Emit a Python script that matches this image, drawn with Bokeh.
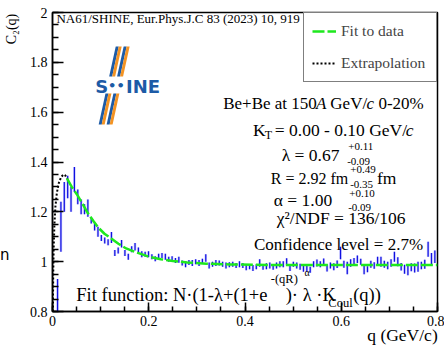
import numpy as np
from bokeh.plotting import figure
from bokeh.models import (Label, Legend, LegendItem, FixedTicker, LinearAxis,
                          CustomJSTickFormatter, PolyAnnotation, Range1d)
from bokeh.embed import file_html
from bokeh.resources import INLINE

# ---------------- data ----------------
bin_width = 0.007
first_bin_centre = 0.0105

c2_values = [
    0.80, 1.14, 1.26, 1.30, 1.25, 1.33, 1.26, 1.22, 1.21, 1.215,
    1.165, 1.14, 1.12, 1.095, 1.085, 1.078, 1.097, 1.035, 1.045, 1.072,
    1.035, 1.02, 1.05, 1.06, 1.045, 1.03, 1.03, 1.03, 1.02, 1.012,
    1.02, 1.025, 1.02, 1.01, 1.012, 1.005, 1.008, 0.995, 0.99, 0.997,
    0.995, 1.0, 0.995, 1.002, 1.015, 0.985, 0.99, 0.995, 0.995, 0.99,
    0.985, 0.988, 0.99, 0.985, 0.99, 0.985, 0.978, 0.98, 0.975, 0.98,
    0.995, 0.978, 0.982, 0.985, 0.978, 0.985, 0.99, 0.99, 1.0, 0.975,
    0.99, 0.985, 0.98, 0.972, 0.975, 0.968, 0.99, 0.995, 0.99, 1.0,
    0.975, 0.985, 0.98, 0.99, 1.035, 0.99, 0.975, 0.995, 1.0, 1.01,
    1.0, 0.97, 0.97, 0.99, 0.985, 1.005, 1.0, 0.99, 0.985, 0.995,
    1.02, 1.0, 0.98, 0.97, 0.965, 0.978, 0.975, 0.98, 0.985, 0.99,
    1.05, 1.01, 1.02,
]
c2_errors = [
    0.13, 0.10, 0.06, 0.045, 0.05, 0.05, 0.03, 0.03, 0.02, 0.035,
    0.012, 0.015, 0.02, 0.012, 0.012, 0.012, 0.022, 0.012, 0.012, 0.015,
    0.012, 0.012, 0.012, 0.015, 0.012, 0.012, 0.01, 0.012, 0.01, 0.01,
    0.012, 0.01, 0.012, 0.01, 0.01, 0.01, 0.012, 0.01, 0.012, 0.01,
    0.012, 0.01, 0.012, 0.01, 0.015, 0.012, 0.01, 0.012, 0.01, 0.01,
    0.012, 0.01, 0.01, 0.01, 0.012, 0.01, 0.012, 0.01, 0.012, 0.01,
    0.015, 0.01, 0.012, 0.012, 0.01, 0.012, 0.012, 0.012, 0.014, 0.012,
    0.01, 0.012, 0.012, 0.012, 0.015, 0.012, 0.012, 0.014, 0.012, 0.013,
    0.014, 0.012, 0.014, 0.015, 0.025, 0.014, 0.025, 0.015, 0.015, 0.015,
    0.012, 0.02, 0.012, 0.014, 0.013, 0.015, 0.02, 0.014, 0.015, 0.015,
    0.02, 0.018, 0.015, 0.018, 0.02, 0.016, 0.018, 0.02, 0.015, 0.018,
    0.03, 0.025, 0.025,
]

fit_q = [0.030, 0.040, 0.052, 0.063, 0.074, 0.085, 0.095, 0.108, 0.122,
         0.137, 0.153, 0.170, 0.188, 0.200, 0.225, 0.250, 0.280, 0.320,
         0.370, 0.450, 0.550, 0.650, 0.800]
fit_c2 = [1.334, 1.300, 1.266, 1.230, 1.193, 1.163, 1.137, 1.112, 1.093,
          1.072, 1.053, 1.040, 1.028, 1.020, 1.010, 1.003, 0.997, 0.992,
          0.989, 0.987, 0.987, 0.987, 0.987]

extrap_q = [0.0008, 0.0015, 0.0025, 0.004, 0.006, 0.009, 0.013, 0.018,
            0.023, 0.027, 0.030]
extrap_c2 = [0.80, 0.95, 1.06, 1.15, 1.22, 1.275, 1.315, 1.34, 1.35,
             1.345, 1.334]

x_ticks = [0, 0.2, 0.4, 0.6, 0.8]
y_ticks = [0.8, 1.0, 1.2, 1.4, 1.6, 1.8, 2.0]

# ---------------- figure ----------------
W, H = 444, 347
L, R, T, B = 49, 437, 12, 311
X0, X1, Y0, Y1 = 0.0, 0.8, 0.8, 2.0
SERIF = "Liberation Serif"
EM = "\u2003"   # em spaces push centred axis titles to the axis ends

p = figure(width=W, height=H, x_range=Range1d(X0, X1), y_range=Range1d(Y0, Y1),
           output_backend="svg", toolbar_location=None,
           min_border_left=L, min_border_right=W - R,
           min_border_top=T, min_border_bottom=H - B)
p.grid.visible = False
p.outline_line_color = "black"
p.outline_line_width = 1.5
p.background_fill_color = "white"
p.border_fill_color = "white"

fmt = CustomJSTickFormatter(code="return tick.toFixed(1).replace(/\\.0$/, '');")
p.xaxis.ticker = FixedTicker(ticks=x_ticks,
                             minor_ticks=np.round(np.arange(0, 0.8001, 0.05), 3).tolist())
p.yaxis.ticker = FixedTicker(ticks=y_ticks,
                             minor_ticks=np.round(np.arange(0.8, 2.0001, 0.05), 3).tolist())
for ax in (p.xaxis[0], p.yaxis[0]):
    ax.formatter = fmt
    ax.axis_line_width = 1.5
    ax.axis_line_color = "black"
    ax.major_tick_out = 0
    ax.minor_tick_out = 0
    ax.major_tick_line_width = 1.5
    ax.minor_tick_line_width = 1.5
    ax.major_tick_line_color = "black"
    ax.minor_tick_line_color = "black"
    ax.major_label_text_font = SERIF
    ax.major_label_text_font_size = "14px"
    ax.major_label_text_color = "black"
p.yaxis.major_tick_in = 11
p.yaxis.minor_tick_in = 6
p.yaxis.major_label_standoff = 5
p.xaxis.major_tick_in = 9
p.xaxis.minor_tick_in = 5
p.xaxis.major_label_standoff = 4
p.xaxis.axis_label = EM * 18 + "q (GeV/c)"
p.xaxis.axis_label_text_font = SERIF
p.xaxis.axis_label_text_font_style = "normal"
p.xaxis.axis_label_text_color = "black"
p.xaxis.axis_label_text_font_size = "17.5px"
p.xaxis.axis_label_standoff = -4

# outer left axis carrying the y title and the stray "n" of the reference
outer = LinearAxis(ticker=FixedTicker(ticks=[1.025]),
                   major_label_overrides={1.025: "n"},
                   axis_line_alpha=0, major_tick_in=0, major_tick_out=0,
                   minor_tick_in=0, minor_tick_out=0,
                   major_label_standoff=17,
                   major_label_text_font="DejaVu Sans",
                   major_label_text_font_size="15px",
                   major_label_text_color="black",
                   axis_label=EM * 19 + "C₂(q)", axis_label_standoff=-22,
                   axis_label_text_font=SERIF,
                   axis_label_text_font_size="14px",
                   axis_label_text_font_style="normal",
                   axis_label_text_color="black")
p.add_layout(outer, "left")

# ---------------- data marks ----------------
q_bins = first_bin_centre + bin_width * np.arange(len(c2_values))
vals = np.array(c2_values)
errs = np.array(c2_errors)
p.segment(x0=q_bins, y0=vals - errs, x1=q_bins, y1=vals + errs,
          line_color="#8080ff", line_width=2.5, line_alpha=0.45)
p.segment(x0=q_bins, y0=vals - errs, x1=q_bins, y1=vals + errs,
          line_color="#1010e0", line_width=1.2)

fit_r = p.line(fit_q, fit_c2, line_color="#1ee81e", line_width=2.5,
               line_dash="12 3")
ext_r = p.line(extrap_q, extrap_c2, line_color="black", line_width=2,
               line_dash="2 2")

legend = Legend(items=[LegendItem(label="Fit to data", renderers=[fit_r]),
                       LegendItem(label="Extrapolation", renderers=[ext_r])],
                location="top_right", margin=0, padding=8, spacing=12,
                glyph_width=24, glyph_height=20, label_height=20,
                label_width=87, label_standoff=5,
                label_text_font=SERIF,
                label_text_font_size="15.5px",
                border_line_color="black", border_line_width=1.5,
                background_fill_color="white", background_fill_alpha=1.0)
p.add_layout(legend)

# ---------------- text helpers ----------------
def X(px):
    return X0 + (px - L) / (R - L) * (X1 - X0)

def Y(py):
    return Y1 - (py - T) / (B - T) * (Y1 - Y0)

def txt(px, py, s, size=17.5, style="normal", font=SERIF,
        color="black", align="left", angle=0.0):
    # labels sit about 0.2 em below the requested baseline; compensate
    py = py - 0.2 * size
    p.add_layout(Label(x=X(px), y=Y(py), text=s, text_font=font,
                       text_font_size=f"{size}px", text_font_style=style,
                       text_color=color, text_align=align,
                       text_baseline="alphabetic", angle=angle))

txt(53, 21, "NA61/SHINE, Eur.Phys.J.C 83 (2023) 10, 919", size=13)

# Be+Be line
txt(221, 106, "Be+Be at 150", size=17)
txt(314.6, 106, "A", size=17, style="italic")
txt(329, 106, "GeV/", size=17)
txt(365.5, 106, "c", size=17, style="italic")
txt(377.5, 106, "0-20%", size=17)

# K_T
txt(251, 133, "K")
txt(263, 137, "T", size=12)
txt(273, 133, "= 0.00 - 0.10 GeV/")
txt(405, 133, "c", style="italic")
# lambda
txt(280, 158, "λ = 0.67")
txt(347, 148, "+0.11", size=11)
txt(346, 163, "-0.09", size=11)
# R
txt(269, 181, "R = 2.92 fm", size=16)
txt(349, 171, "+0.49", size=11)
txt(349, 186, "-0.35", size=11)
txt(376, 181, "fm")
# alpha
txt(272, 203, "α = 1.00")
txt(348, 195, "+0.10", size=11)
txt(347, 209, "-0.09", size=11)
# chi2
txt(275, 221, "χ²/NDF = 136/106")
txt(252, 247, "Confidence level = 2.7%", size=17)

# Fit function
txt(73, 298, "Fit function: N·(1-λ+(1+e", size=18.5)
txt(269, 281, "-(qR)", size=12.5)
txt(303, 274, "α", size=10)
txt(284, 298, ")· λ ·K", size=18.5)
txt(327, 305, "Coul", size=12.5)
txt(352, 298, "(q))", size=18.5)

# ---------------- SHINE logo ----------------
blue, orange = "#1d5ba6", "#f39323"
slope = -0.22
stripes = [(112.5, blue), (115.5, orange), (120.5, blue), (123.5, orange)]
for (y0, y1) in [(46, 76), (93, 124)]:
    for x0, col in stripes:
        xa = x0 + slope * (y0 - 47)
        xb = x0 + slope * (y1 - 47)
        w = 3.0
        p.add_layout(PolyAnnotation(
            xs=[X(xa), X(xa + w), X(xb + w), X(xb)],
            ys=[Y(y0), Y(y0), Y(y1), Y(y1)],
            fill_color=col, fill_alpha=1.0, line_alpha=0.0))
txt(92, 90, "S", size=18, style="bold", font="DejaVu Sans", color=blue)
txt(105, 88, "••", size=13, style="bold", font="DejaVu Sans", color=blue)
txt(123, 90, "INE", size=18, style="bold", font="DejaVu Sans", color=blue)

open("out.html", "w").write(file_html(p, INLINE))
